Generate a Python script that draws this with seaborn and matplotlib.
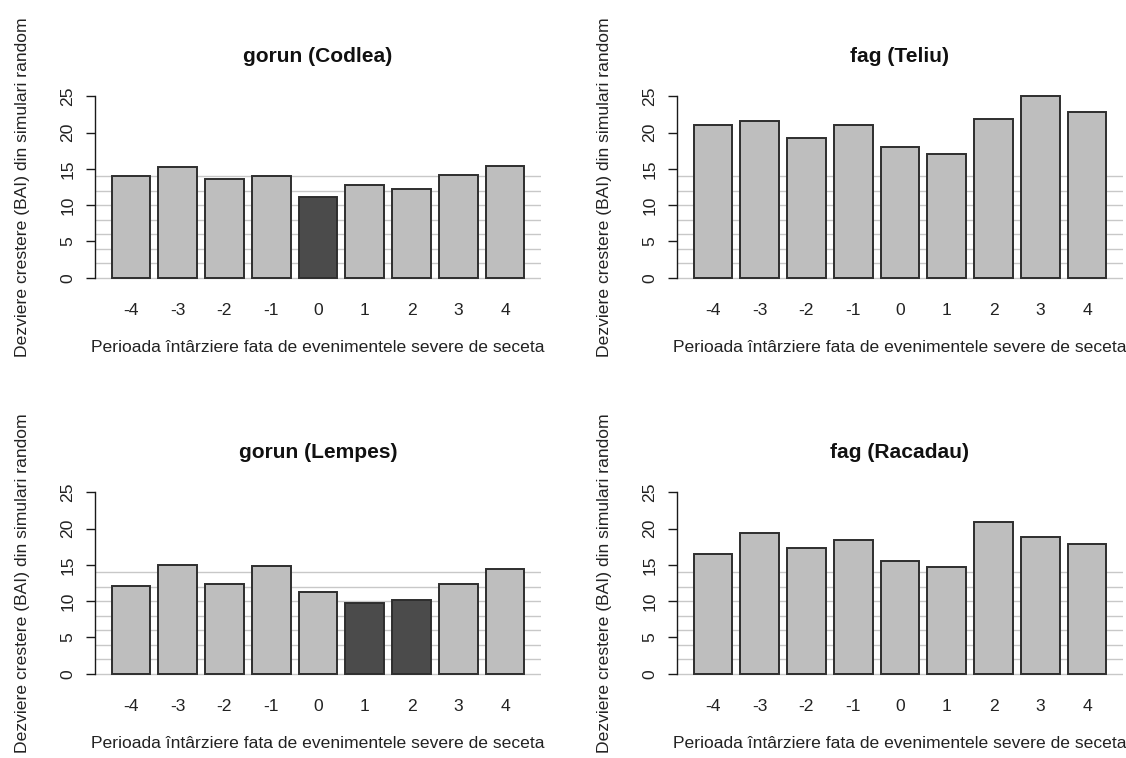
import matplotlib
matplotlib.use("Agg")
import matplotlib.pyplot as plt
import seaborn as sns
import pandas as pd

# ---- data ----
lags = ["-4", "-3", "-2", "-1", "0", "1", "2", "3", "4"]
codlea = [14.0, 15.25, 13.65, 14.0, 11.1, 12.75, 12.2, 14.1, 15.35]
teliu = [21.0, 21.6, 19.2, 21.0, 17.95, 17.1, 21.8, 25.1, 22.9]
lempes = [12.15, 15.0, 12.3, 14.8, 11.2, 9.7, 10.1, 12.3, 14.4]
racadau = [16.55, 19.45, 17.3, 18.4, 15.55, 14.7, 20.9, 18.8, 17.9]
# significant lags (dark bars)
codlea_sig = ["0"]
teliu_sig = []
lempes_sig = ["1", "2"]
racadau_sig = []
titles = ["gorun (Codlea)", "fag (Teliu)", "gorun (Lempes)", "fag (Racadau)"]
ref_lines = [0, 2, 4, 6, 8, 10, 12, 14]
y_ticks = [0, 5, 10, 15, 20, 25]
xlabel = "Perioada întârziere fata de evenimentele severe de seceta"
ylabel = "Dezviere crestere (BAI) din simulari random"

sns.set_theme(style="white")
plt.rcParams["font.family"] = ["Liberation Sans", "DejaVu Sans"]

W, H = 1126, 758
fig = plt.figure(figsize=(W / 100, H / 100), dpi=100)

LIGHT = "#BEBEBE"
DARK = "#4B4B4B"
EDGE = "#2E2E2E"
TXT = "#222222"
FS = 12.6

panels = [
    (codlea, codlea_sig, titles[0], 95, 89),
    (teliu, teliu_sig, titles[1], 677, 89),
    (lempes, lempes_sig, titles[2], 95, 485),
    (racadau, racadau_sig, titles[3], 677, 485),
]
aw, ah = 446, 196

for vals, sig, title, px, py in panels:
    ax = fig.add_axes([px / W, 1 - (py + ah) / H, aw / W, ah / H])
    df = pd.DataFrame({"lag": lags, "val": vals})
    pal = {l: (DARK if l in sig else LIGHT) for l in lags}
    for r in ref_lines:
        ax.axhline(r, color="#C8C8C8", lw=1.0, zorder=0)
    sns.barplot(data=df, x="lag", y="val", hue="lag", order=lags, hue_order=lags,
                palette=pal, width=1 / 1.2, edgecolor=EDGE, linewidth=1.4,
                legend=False, ax=ax, zorder=2)
    ax.set_xlim(-0.77, 8.77)
    ax.set_ylim(-1, 26)
    for s in ["top", "right", "bottom"]:
        ax.spines[s].set_visible(False)
    ax.spines["left"].set_bounds(0, 25)
    ax.spines["left"].set_color("#1a1a1a")
    ax.spines["left"].set_linewidth(1.0)
    ax.set_yticks(y_ticks)
    ax.set_yticklabels([str(t) for t in y_ticks], rotation=90, va="center")
    ax.tick_params(axis="y", left=True, length=6.5, width=1.0, color="#1a1a1a",
                   pad=7.5, labelsize=FS, labelcolor=TXT)
    ax.tick_params(axis="x", bottom=False, length=0, pad=13, labelsize=FS,
                   labelcolor=TXT)
    ax.grid(False)
    ax.set_xlabel(xlabel, fontsize=FS, color=TXT)
    ax.xaxis.set_label_coords(0.5, -0.28)
    ax.set_ylabel(ylabel, fontsize=FS, color=TXT, va="center")
    ax.yaxis.set_label_coords(-72 / aw, 0.5)
    ax.set_title(title, fontsize=15.1, fontweight="bold", color="#111111", pad=19.4)

fig.savefig("out.png", dpi=100, facecolor="white")
